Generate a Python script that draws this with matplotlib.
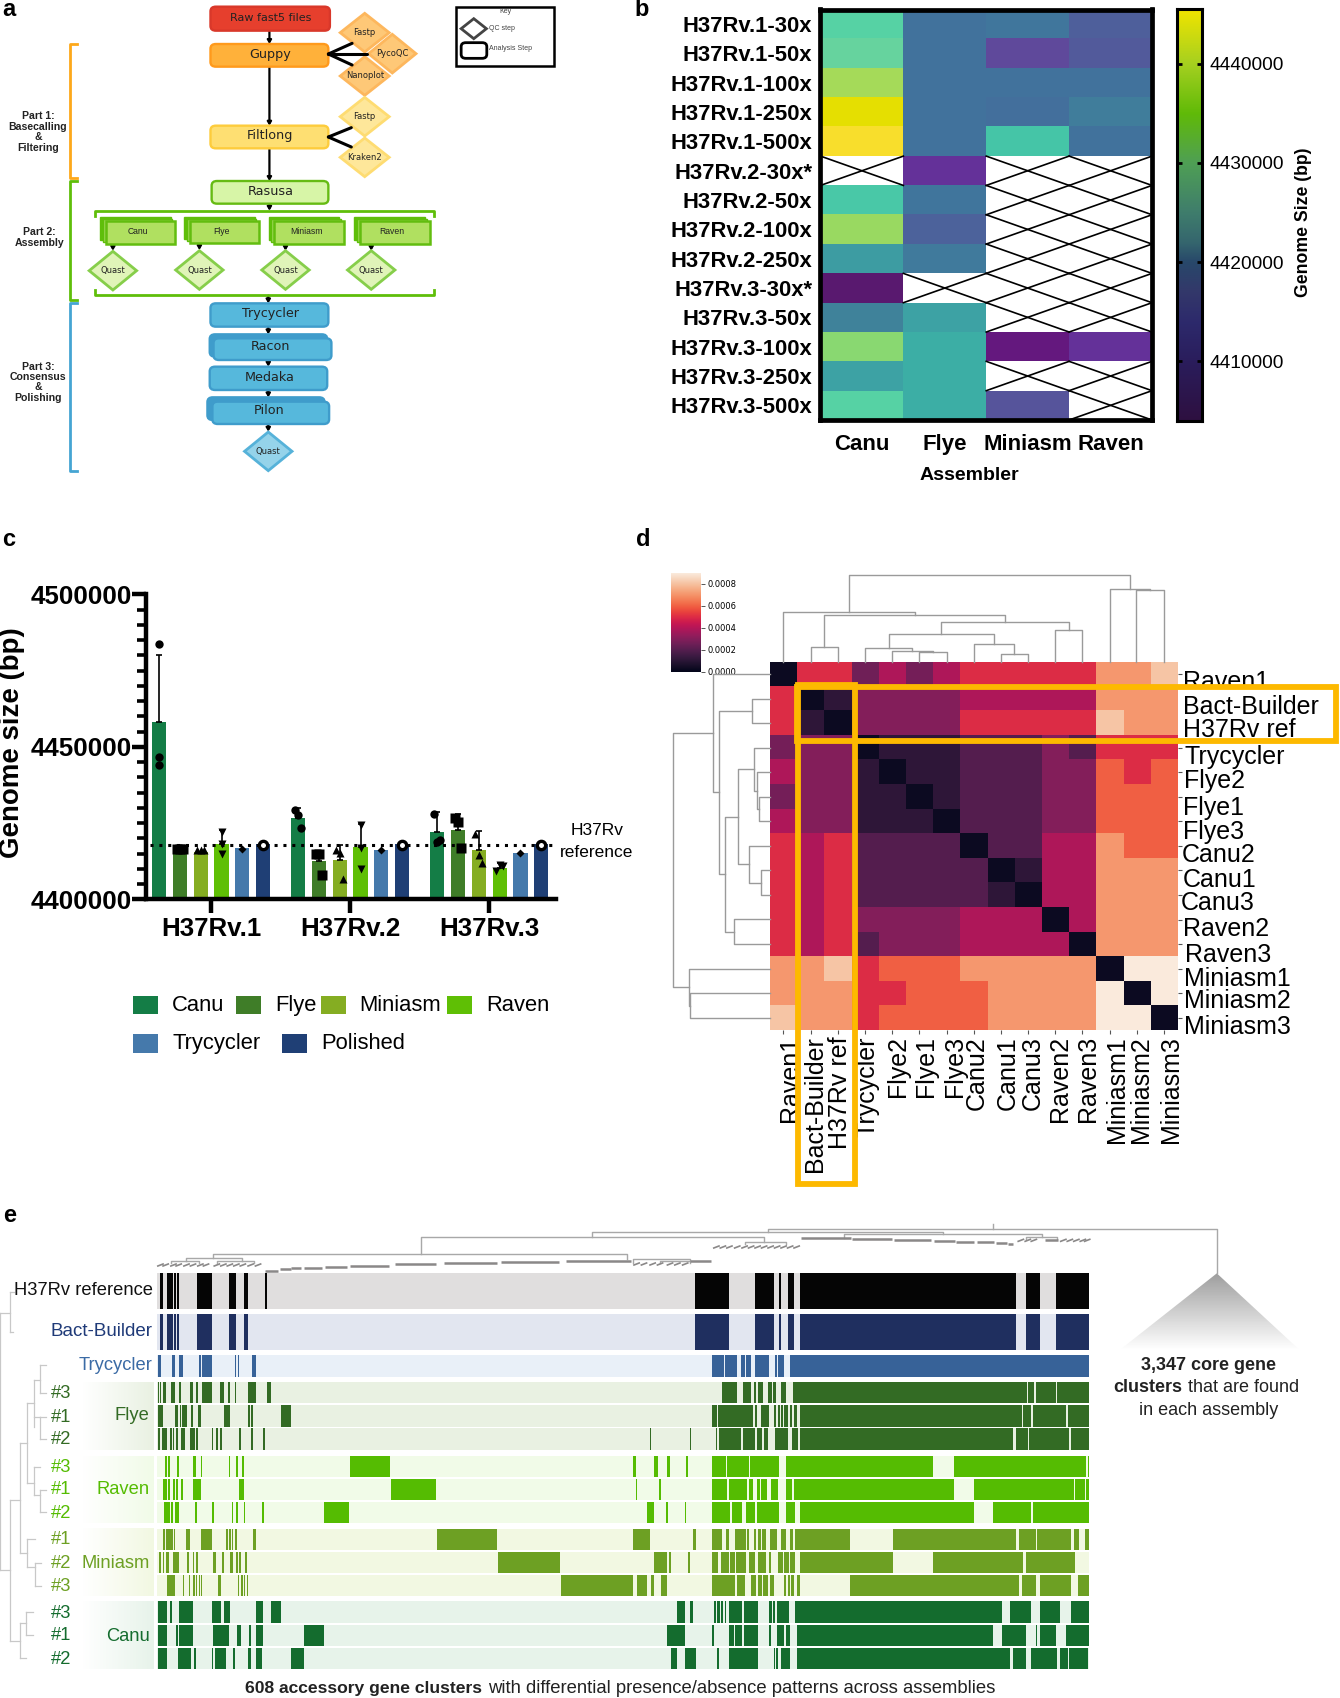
import matplotlib
matplotlib.use("Agg")
import matplotlib.pyplot as plt
import numpy as np
import seaborn as sns
from matplotlib.colors import LinearSegmentedColormap
from matplotlib.patches import FancyBboxPatch, Polygon, Rectangle

W, H = 1340, 1698
SANS = ['Liberation Sans']

# ---- panel b data
coverages = ['H37Rv.1-30x', 'H37Rv.1-50x', 'H37Rv.1-100x', 'H37Rv.1-250x', 'H37Rv.1-500x',
             'H37Rv.2-30x*', 'H37Rv.2-50x', 'H37Rv.2-100x', 'H37Rv.2-250x',
             'H37Rv.3-30x*', 'H37Rv.3-50x', 'H37Rv.3-100x', 'H37Rv.3-250x', 'H37Rv.3-500x']
assemblers = ['Canu', 'Flye', 'Miniasm', 'Raven']
nan = np.nan
genome_canu = [4431000, 4432500, 4438000, 4442000, 4444000, nan, 4429500, 4437000, 4424500,
               4407000, 4422000, 4435500, 4425000, 4431000]
genome_flye = [4420000, 4420000, 4420000, 4420000, 4420000, 4412000, 4420300, 4417500, 4421000,
               nan, 4425000, 4427000, 4427000, 4427000]
genome_miniasm = [4420500, 4415000, 4420000, 4419500, 4429000, nan, nan, nan, nan,
                  nan, nan, 4410000, nan, 4416000]
genome_raven = [4417000, 4416500, 4420000, 4421500, 4420000, nan, nan, nan, nan,
                nan, nan, 4412000, nan, nan]
cbar_ticks_b = [4410000, 4420000, 4430000, 4440000]

# ---- panel c data
isolates = ['H37Rv.1', 'H37Rv.2', 'H37Rv.3']
series_c = ['Canu', 'Flye', 'Miniasm', 'Raven', 'Trycycler', 'Polished']
mean_h37rv1 = [4458080, 4417560, 4415500, 4418150, 4416860, 4418030]
mean_h37rv2 = [4426810, 4412530, 4412880, 4417210, 4416280, 4418030]
mean_h37rv3 = [4422010, 4422720, 4416040, 4410300, 4415340, 4418030]
errtop_h37rv1 = [4480210, 4417560, 4415500, 4422830, 4416860, 4418030]
errtop_h37rv2 = [4429980, 4416000, 4417800, 4424820, 4416280, 4418030]
errtop_h37rv3 = [4428570, 4428100, 4422250, 4411940, 4415340, 4418030]
reps_h37rv1 = [[4483610, 4446720, 4444030], [4416630, 4416630, 4416630], [4416040, 4416040, 4416040],
               [4422130, 4418030, 4414870], [4416510], [4417800]]
reps_h37rv2 = [[4429275, 4427640, 4423420], [4414750, 4414750, 4407960], [4416040, 4415110, 4406560],
               [4424240, 4416860, 4410070], [4416160], [4417800]]
reps_h37rv3 = [[4427870, 4418850, 4419320], [4426580, 4425290, 4416750], [4421550, 4414640, 4412060],
               [4409130, 4411240, 4410770], [4415340], [4417800]]
reference_size = 4417680

# ---- panel d data (distances, dendrogram order)
taxa = ['Raven1', 'Bact-Builder', 'H37Rv ref', 'Trycycler', 'Flye2', 'Flye1', 'Flye3', 'Canu2',
        'Canu1', 'Canu3', 'Raven2', 'Raven3', 'Miniasm1', 'Miniasm2', 'Miniasm3']
a, b_, c_, d_, e_, f_, g_, h_, i_, j_ = 0.00003, 0.00011, 0.00020, 0.00030, 0.00039, 0.00050, 0.00060, 0.00071, 0.00081, 0.00090
dist_matrix = [
    [a, f_, f_, 0.00026, e_, 0.00027, e_, f_, f_, f_, f_, f_, h_, h_, i_],
    [f_, a, b_, d_, d_, d_, d_, e_, e_, e_, e_, e_, h_, h_, h_],
    [f_, b_, a, d_, d_, d_, d_, f_, f_, f_, f_, f_, i_, h_, h_],
    [0.00027, d_, d_, a, b_, b_, b_, c_, c_, c_, d_, c_, f_, f_, f_],
    [e_, d_, d_, b_, a, b_, b_, c_, c_, c_, d_, d_, g_, f_, g_],
    [0.00027, d_, d_, b_, b_, a, b_, c_, c_, c_, d_, d_, g_, g_, g_],
    [e_, d_, d_, b_, b_, b_, a, c_, c_, c_, d_, d_, g_, g_, g_],
    [f_, e_, f_, c_, c_, c_, c_, a, c_, c_, e_, e_, h_, g_, g_],
    [f_, e_, f_, c_, c_, c_, c_, c_, a, b_, e_, e_, h_, h_, h_],
    [f_, e_, f_, c_, c_, c_, c_, c_, b_, a, e_, e_, h_, h_, h_],
    [f_, e_, f_, d_, d_, d_, d_, e_, e_, e_, a, e_, h_, h_, h_],
    [f_, e_, f_, c_, d_, d_, d_, e_, e_, e_, e_, a, h_, h_, h_],
    [h_, h_, i_, f_, g_, g_, g_, h_, h_, h_, h_, h_, a, j_, j_],
    [h_, h_, h_, f_, f_, g_, g_, g_, h_, h_, h_, h_, j_, a, j_],
    [i_, h_, h_, f_, g_, g_, g_, g_, h_, h_, h_, h_, j_, j_, a],
]
cbar_ticks_d = [0.0, 0.0002, 0.0004, 0.0006, 0.0008]


# ---- panel e data: presence intervals along the gene cluster axis
def rhs(spans):
    # the right half of the matrix was read with its own origin
    return [(s + 1522, t + 1522) for s, t in spans]


ref_core = [(81, 159), (219, 262), (275, 280), (296, 309), (322, 820), (845, 876), (912, 990)]
ref_acc = [(370, 376), (385, 399), (402, 405), (409, 413), (455, 489), (529, 545), (562, 573)]
clusters_ref = ref_acc + [(611, 615)] + rhs(ref_core)
clusters_bact = ref_acc + rhs(ref_core)
clusters_tryc = [(364, 371), (396, 403), (413, 421), (459, 463), (466, 489), (541, 545), (548, 552), (582, 590)] + rhs(
    [(120, 148), (151, 177), (187, 195), (198, 210), (219, 251), (265, 270), (273, 286), (300, 990)])
clusters_flye3 = [(364, 367), (369, 372), (375, 382), (395, 404), (413, 417), (437, 446), (451, 456), (466, 489),
                  (508, 517), (525, 530), (541, 545), (572, 590), (615, 625)] + rhs(
    [(142, 177), (191, 210), (216, 222), (227, 238), (248, 258), (261, 268), (279, 290), (307, 846), (849, 862),
     (866, 912), (915, 990)])
clusters_flye1 = [(364, 376), (403, 411), (414, 418), (420, 432), (441, 445), (456, 463), (516, 530), (573, 577),
                  (579, 583), (647, 671)] + rhs(
    [(120, 131), (134, 215), (218, 224), (233, 251), (262, 268), (271, 276), (279, 284), (287, 296), (299, 304),
     (309, 315), (322, 835), (838, 855), (861, 937), (941, 990)])
clusters_flye2 = [(364, 370), (373, 384), (391, 396), (398, 402), (405, 411), (417, 427), (437, 449), (452, 456),
                  (488, 492), (498, 502), (507, 513), (551, 555), (579, 583), (607, 611), (1498, 1501)] + rhs(
    [(68, 71), (128, 131), (135, 187), (191, 219), (223, 236), (240, 248), (265, 296), (304, 318), (322, 814),
     (820, 849), (852, 944), (947, 990)])
clusters_raven3 = [(381, 385), (388, 392), (409, 413), (445, 452), (463, 466), (527, 530), (544, 548), (558, 562),
                   (806, 899), (1459, 1466), (1508, 1518), (1540, 1544)] + rhs(
    [(17, 21), (60, 64), (120, 152), (155, 205), (208, 275), (290, 630), (679, 982), (986, 990)])
clusters_raven1 = [(375, 385), (387, 392), (399, 403), (406, 410), (417, 421), (445, 463), (551, 562), (901, 1006),
                   (1466, 1470), (1519, 1525)] + rhs(
    [(-3, 3), (120, 155), (159, 201), (205, 214), (223, 230), (233, 247), (255, 271), (290, 304), (308, 678),
     (725, 954), (958, 979), (982, 990)])
clusters_raven2 = [(378, 392), (395, 399), (403, 413), (449, 455), (489, 494), (534, 537), (544, 548), (562, 566),
                   (604, 608), (746, 805), (1491, 1507), (1536, 1540)] + rhs(
    [(14, 18), (57, 60), (120, 162), (166, 190), (198, 219), (223, 275), (291, 311), (322, 724), (768, 856),
     (859, 990)])
clusters_mini1 = [(375, 380), (382, 398), (401, 404), (428, 437), (463, 488), (522, 526), (529, 532), (534, 538),
                  (541, 547), (583, 590), (1007, 1147), (1459, 1498)] + rhs(
    [(75, 82), (120, 142), (152, 159), (173, 198), (200, 205), (216, 222), (227, 232), (236, 244), (254, 269),
     (279, 290), (300, 307), (311, 438), (537, 820), (828, 866), (869, 947), (954, 966), (979, 990)])
clusters_mini2 = [(367, 372), (375, 379), (383, 389), (399, 413), (431, 435), (445, 448), (451, 456), (491, 498),
                  (513, 517), (530, 537), (544, 548), (552, 556), (566, 570), (1148, 1292), (1508, 1536),
                  (1544, 1547)] + rhs(
    [(0, 16), (21, 25), (64, 68), (120, 134), (141, 159), (162, 173), (176, 198), (205, 219), (227, 244), (251, 255),
     (272, 283), (286, 297), (300, 311), (322, 537), (630, 837), (845, 958)])
clusters_mini3 = [(385, 398), (400, 404), (421, 424), (435, 438), (445, 449), (451, 455), (458, 462), (463, 466),
                  (502, 509), (548, 552), (555, 560), (562, 566), (569, 572), (1293, 1459), (1470, 1491),
                  (1501, 1508), (1526, 1536)] + rhs(
    [(3, 16), (120, 173), (177, 195), (209, 222), (225, 235), (238, 248), (254, 262), (287, 291), (294, 300),
     (303, 309), (315, 322), (438, 828), (834, 866), (877, 947), (965, 990)])
clusters_canu3 = [(364, 385), (392, 396), (413, 445), (488, 509), (516, 530), (590, 607), (625, 647),
                  (1562, 1568)] + rhs(
    [(39, 57), (68, 75), (124, 128), (131, 138), (141, 145), (149, 152), (159, 190), (194, 226), (251, 258),
     (261, 265), (269, 297), (311, 789), (806, 856), (877, 923), (947, 990)])
clusters_canu1 = [(364, 385), (406, 410), (413, 445), (491, 527), (547, 555), (575, 579), (590, 607), (700, 746),
                  (1537, 1568)] + rhs(
    [(15, 57), (120, 124), (159, 170), (173, 190), (194, 226), (251, 255), (269, 286), (290, 300), (315, 768),
     (789, 845), (866, 870), (877, 912), (937, 990)])
clusters_canu2 = [(364, 385), (410, 441), (447, 452), (488, 492), (495, 522), (537, 541), (572, 579), (590, 604),
                  (672, 700), (1547, 1561)] + rhs(
    [(25, 39), (57, 82), (131, 135), (159, 226), (262, 265), (268, 272), (279, 300), (315, 806), (813, 845),
     (855, 916), (922, 940), (943, 987)])

fig = plt.figure(figsize=(W / 100, H / 100), dpi=100, facecolor='white')


def px_axes(x0, y0, x1, y1, **kw):
    return fig.add_axes([x0 / W, 1 - y1 / H, (x1 - x0) / W, (y1 - y0) / H], **kw)


def overlay(x0, y0, w, h, sx, sy):
    # drawing canvas in magnified reference units, y pointing down
    ax = px_axes(x0, y0, x0 + w, y0 + h)
    ax.set_xlim(0, w * sx)
    ax.set_ylim(h * sy, 0)
    ax.axis('off')
    ax.patch.set_alpha(0)
    ax.set_autoscale_on(False)
    return ax


# ======== panel a
axa = overlay(0, 0, 600, 490, 2.613, 3.0)


def box(x0, y0, x1, y1, fc, ec, label=None, size=9.2, family='DejaVu Sans', lw=1.7):
    axa.add_patch(FancyBboxPatch((x0 + 9, y0 + 9), x1 - x0 - 18, y1 - y0 - 18, boxstyle='round,pad=9,rounding_size=14',
                                 fc=fc, ec=ec, lw=lw, zorder=2))
    if label:
        axa.text((x0 + x1) / 2 + 2, (y0 + y1) / 2 - 3, label, ha='center', va='center', fontsize=size,
                 family=family, color='#222222', zorder=4)


def diamond(cx, cy, hw, hh, fc, ec, label, size=6):
    axa.add_patch(Polygon([(cx - hw, cy), (cx, cy - hh), (cx + hw, cy), (cx, cy + hh)], closed=True, fc=fc, ec=ec,
                          lw=2, zorder=2))
    axa.text(cx, cy, label, ha='center', va='center', fontsize=size, family='DejaVu Sans', color='#222222', zorder=4)


box(550, 20, 862, 92, '#e63f2d', '#d9382a', 'Raw fast5 files', 8)
box(550, 132, 858, 200, '#ffb13a', '#ff9a1c', 'Guppy')
box(550, 377, 858, 445, '#fedf72', '#fdcc3c', 'Filtlong')
box(553, 543, 858, 611, '#d7f5a7', '#66bb13', 'Rasusa')
blue, blue_ec = '#56b8dc', '#3f9ccb'
box(550, 910, 858, 980, blue, blue_ec, 'Trycycler')
box(548, 1003, 855, 1070, '#3f9ccb', blue_ec)
box(558, 1015, 866, 1080, blue, blue_ec)
axa.text(708, 1041, 'Racon', ha='center', va='center', fontsize=9.2, family='DejaVu Sans', color='#222222', zorder=4)
box(548, 1100, 855, 1170, blue, blue_ec, 'Medaka')
box(542, 1192, 848, 1260, '#3f9ccb', blue_ec)
box(555, 1205, 860, 1272, blue, blue_ec)
axa.text(704, 1232, 'Pilon', ha='center', va='center', fontsize=9.2, family='DejaVu Sans', color='#222222', zorder=4)

for name, fx, back in [('Canu', 276, 260), ('Flye', 496, 481), ('Miniasm', 717, 702), ('Raven', 941, 926)]:
    top = 664 if name != 'Flye' else 662
    axa.add_patch(Rectangle((back, top - 12), fx + 170 - back, 68, fc='#5fbe0a', ec='#5fbe0a', zorder=2))
    axa.add_patch(Rectangle((fx - 8, top - 6), 182, 68, fc='#9bd653', ec='#5fbe0a', lw=1, zorder=2))
    axa.add_patch(Rectangle((fx, top), 182, 68, fc='#b0e060', ec='#62bd0f', lw=1.8, zorder=3))
    axa.text(fx + 84, top + 32, name, ha='center', va='center', fontsize=6.2, family=SANS, color='#222222', zorder=4)

diamond(953, 98, 64, 58, '#fec877', '#fdb75d', 'Fastp')
diamond(1025, 161, 62, 58, '#fec877', '#fdb75d', 'PycoQC')
diamond(953, 228, 64, 58, '#fec877', '#fdb75d', 'Nanoplot')
diamond(953, 350, 64, 58, '#fee79a', '#fedc72', 'Fastp')
diamond(953, 472, 64, 58, '#fee79a', '#fedc72', 'Kraken2')
for qx, qy in [(295, 812), (521, 810), (746, 810), (970, 810)]:
    diamond(qx, qy, 62, 58, '#e0f4b8', '#86ce4a', 'Quast')
diamond(701, 1354, 62, 58, '#95d3ea', '#56b2d9', 'Quast')

for x, y0, y1 in [(704, 92, 132), (704, 200, 377), (704, 445, 543), (704, 611, 632), (701, 887, 910), (701, 980, 1003),
                  (701, 1080, 1100), (701, 1170, 1192), (701, 1272, 1295), (295, 732, 752), (521, 730, 750),
                  (746, 732, 752), (970, 732, 752)]:
    axa.annotate('', xy=(x, y1), xytext=(x, y0), zorder=1,
                 arrowprops=dict(arrowstyle='-|>,head_width=0.12,head_length=0.2', lw=1.6, color='black',
                                 shrinkA=0, shrinkB=0))
for p, q in [((858, 162), (920, 130)), ((858, 162), (960, 162)), ((858, 162), (920, 195)),
             ((858, 411), (918, 383)), ((858, 411), (918, 441))]:
    axa.plot([p[0], q[0]], [p[1], q[1]], color='black', lw=2.2, zorder=5, solid_capstyle='round')

for y0, y1, col in [(132, 533, '#fda81a'), (543, 900, '#5fbe0a'), (908, 1412, '#45a5d3')]:
    axa.plot([200, 183, 183, 200], [y0, y0, y1, y1], color=col, lw=2)
axa.plot([248, 248, 1135, 1135], [648, 633, 633, 648], color='#5fbe0a', lw=2)
axa.plot([248, 248, 1135, 1135], [870, 886, 886, 870], color='#5fbe0a', lw=2)

part_labels = [('Part 1:', 100, 348), ('Basecalling', 97, 380), ('&', 100, 411), ('Filtering', 100, 443),
               ('Part 2:', 104, 697), ('Assembly', 104, 728),
               ('Part 3:', 99, 1100), ('Consensus', 99, 1131), ('&', 99, 1162), ('Polishing', 99, 1194)]
for s, x, y in part_labels:
    axa.text(x, y, s, ha='center', va='center', fontsize=7.6, fontweight='bold', family=SANS, color='#222222')

axa.add_patch(Rectangle((1191, 20), 256, 177, fc='white', ec='black', lw=1.8))
axa.text(1320, 34, 'Key', ha='center', va='center', fontsize=5, family=SANS, color='#444444')
axa.add_patch(Polygon([(1205, 86), (1238, 56), (1271, 86), (1238, 116)], closed=True, fc='white', ec='#444444', lw=2))
axa.text(1278, 85, 'QC step', va='center', fontsize=5, family=SANS, color='#444444')
axa.add_patch(FancyBboxPatch((1215, 138), 47, 27, boxstyle='round,pad=10,rounding_size=12', fc='white', ec='black', lw=2))
axa.text(1278, 146, 'Analysis Step', va='center', fontsize=5, family=SANS, color='#444444')

# ======== panel b
cell_cmap = LinearSegmentedColormap.from_list('cells', [
    (0.0, '#3a1050'), (3000 / 41500, '#5a1a70'), (6000 / 41500, '#64187e'), (8000 / 41500, '#65329a'),
    (11000 / 41500, '#5f4a9c'), (13000 / 41500, '#4f5f9b'), (16000 / 41500, '#41739d'), (19000 / 41500, '#3f8a9a'),
    (21000 / 41500, '#3da3a5'), (23000 / 41500, '#3cafa6'), (25000 / 41500, '#45c5a8'), (27000 / 41500, '#56d2a5'),
    (29000 / 41500, '#6cd49c'), (32000 / 41500, '#8ed96a'), (34000 / 41500, '#a5da5a'), (38000 / 41500, '#e5e000'),
    (40000 / 41500, '#f8de2c'), (1.0, '#f8de2c')])
bar_cmap = LinearSegmentedColormap.from_list('bar', [
    (0.0, '#2e1040'), (6000 / 41500, '#2a1d5c'), (10000 / 41500, '#2d2a6c'), (13000 / 41500, '#33386a'),
    (16000 / 41500, '#28486a'), (18000 / 41500, '#35666e'), (21000 / 41500, '#3f7d6c'), (26000 / 41500, '#4f9f55'),
    (31000 / 41500, '#60ba08'), (36000 / 41500, '#a5d020'), (1.0, '#f0e400')])
vmin_b, vmax_b = 4404000, 4445500

axb = px_axes(820.5, 9.5, 1152, 420)
grid_b = np.array([genome_canu, genome_flye, genome_miniasm, genome_raven]).T
axb.imshow(np.ma.masked_invalid(grid_b), cmap=cell_cmap, vmin=vmin_b, vmax=vmax_b, aspect='auto',
           interpolation='nearest')
for r, c in zip(*np.where(np.isnan(grid_b))):
    axb.plot([c - 0.5, c + 0.5], [r - 0.5, r + 0.5], color='black', lw=1.2)
    axb.plot([c - 0.5, c + 0.5], [r + 0.5, r - 0.5], color='black', lw=1.2)
axb.set_xlim(-0.5, 3.5)
axb.set_ylim(13.5, -0.5)
axb.set_yticks(range(len(coverages)), coverages, family=SANS, fontweight='bold', fontsize=15.8)
axb.set_xticks(range(len(assemblers)), assemblers, family=SANS, fontweight='bold', fontsize=16)
axb.tick_params(length=0, pad=6)
axb.tick_params(axis='x', pad=10)
for sp in axb.spines.values():
    sp.set_linewidth(3.4)
axb.set_xlabel('Assembler', family=SANS, fontweight='bold', fontsize=14, labelpad=9, x=0.45)

axcb = px_axes(1177, 9.3, 1202, 420.7)
axcb.imshow(np.linspace(vmax_b, vmin_b, 256)[:, None], cmap=bar_cmap, vmin=vmin_b, vmax=vmax_b, aspect='auto',
            extent=(0, 1, vmin_b, vmax_b))
axcb.set_xticks([])
axcb.yaxis.tick_right()
axcb.set_yticks(cbar_ticks_b, [str(t) for t in cbar_ticks_b], family=SANS, fontsize=13.8)
axcb.tick_params(axis='y', direction='in', left=True, right=True, length=3.5, width=2, pad=5.5)
for sp in axcb.spines.values():
    sp.set_linewidth(2.2)
fig.text(1303 / W, 1 - 222.5 / H, 'Genome Size (bp)', rotation=90, ha='center', va='center', family=SANS,
         fontweight='bold', fontsize=12.7)

# ======== panel c
axc = px_axes(146, 594.3, 556, 899.3)
colors_c = ['#147d46', '#3f7d28', '#85ad22', '#5fbf05', '#4579ab', '#1f3f75']
markers_c = ['o', 's', '^', 'v', 'D', 'o']
sizes_c = [6, 6.5, 6, 6, 4, 6]
group_step = 6.676
jitter = {3: [-0.16, 0.0, 0.16]}
for g, (means, tops, reps) in enumerate(zip([mean_h37rv1, mean_h37rv2, mean_h37rv3],
                                            [errtop_h37rv1, errtop_h37rv2, errtop_h37rv3],
                                            [reps_h37rv1, reps_h37rv2, reps_h37rv3])):
    for i in range(6):
        x = g * group_step + i
        axc.bar(x, means[i], width=0.68, color=colors_c[i], zorder=2)
        if tops[i] > means[i]:
            axc.errorbar(x, means[i], yerr=[[0], [tops[i] - means[i]]], color='black', lw=1.2, capsize=2.5,
                         capthick=1.2, zorder=3)
        n = len(reps[i])
        if i == 0 and g == 0 or i == 3 and g < 2:
            offs = [0] * n
        else:
            offs = jitter.get(n, [0])
        for off, v in zip(offs, reps[i]):
            if i == 5:
                axc.plot(x, v, marker='o', ms=sizes_c[i], mfc='white', mec='black', mew=2.4, zorder=5)
            else:
                axc.plot(x + off, v, marker=markers_c[i], ms=sizes_c[i], color='black', mec='none', zorder=5)
axc.plot([-0.43, 18.86], [reference_size, reference_size], color='black', lw=2.2, ls=(0, (1, 1.9)), zorder=4)
axc.set_xlim(-0.627, 19.06)
axc.set_ylim(4400000, 4500000)
axc.spines[['top', 'right']].set_visible(False)
axc.spines[['left', 'bottom']].set_linewidth(3.2)
axc.set_yticks([4400000, 4450000, 4500000], ['4400000', '4450000', '4500000'], family=SANS, fontweight='bold',
               fontsize=18.7)
axc.set_yticks(np.arange(4400000, 4500001, 5000), minor=True)
axc.tick_params(axis='y', which='major', length=10, width=3.2, pad=0)
axc.tick_params(axis='y', which='minor', length=6.5, width=2.6)
axc.set_xticks([2.5 + g * group_step for g in range(3)], isolates, family=SANS, fontweight='bold', fontsize=18.6)
axc.tick_params(axis='x', length=10, width=3.2, pad=3)
fig.text(12 / W, 1 - 743 / H, 'Genome size (bp)', rotation=90, ha='center', va='center', family=SANS,
         fontweight='bold', fontsize=19.9)

ovc = overlay(0, 520, 640, 560, 2.45, 2.8)
ovc.text(1462, 870, 'H37Rv', ha='center', va='center', family=SANS, fontsize=12.5)
ovc.text(1462, 931, 'reference', ha='center', va='center', family=SANS, fontsize=12.5)
legend_c = [(326, 1332, 422), (579, 1332, 675), (786, 1332, 880), (1096, 1332, 1192), (326, 1440, 422), (690, 1440, 787)]
for (px, py, tx), col, name in zip(legend_c, colors_c, series_c):
    ovc.add_patch(Rectangle((px, py), 61, 51, fc=col, ec='none'))
    ovc.text(tx, py + 27, name, va='center', family=SANS, fontsize=15.8)

# ======== panel d
rocket = sns.color_palette('rocket', as_cmap=True)
axd = px_axes(769.9, 661.8, 1177.5, 1030)
axd.imshow(np.array(dist_matrix), cmap=rocket, vmin=0, vmax=0.0009, aspect='auto', interpolation='nearest')
axd.set_xticks(range(15))
axd.set_yticks(range(15))
axd.set_xticklabels([])
axd.set_yticklabels([])
axd.tick_params(length=3, width=0.8, color='#555555')
axd.yaxis.tick_right()
for sp in axd.spines.values():
    sp.set_visible(False)

ovd = overlay(640, 520, 700, 680, 2.24, 2.306)
ovd.set_zorder(5)
tree_gray = '#9a9a9a'
top_links = [(382, 443, 327, 327, 292), (626, 687, 327, 327, 305), (565, 656, 327, 305, 303), (504, 610, 327, 303, 296),
             (808, 869, 327, 327, 310), (748, 838, 327, 310, 285), (557, 793, 296, 285, 262), (930, 991, 327, 327, 253),
             (675, 960, 262, 253, 235), (412, 817, 292, 235, 220), (321, 615, 327, 220, 211), (1112, 1173, 327, 327, 162),
             (1052, 1142, 327, 162, 160), (468, 1097, 211, 160, 126)]
for x0, x1, d0, d1, hgt in top_links:
    ovd.plot([x0, x0, x1, x1], [d0, hgt, hgt, d1], color=tree_gray, lw=1)
side_links = [(412, 468, 291, 291, 250), (638, 695, 291, 291, 266), (582, 666, 291, 266, 262), (525, 624, 291, 262, 255),
              (808, 865, 291, 291, 270), (751, 836, 291, 270, 244), (575, 794, 255, 244, 219), (921, 978, 291, 291, 210),
              (685, 950, 219, 210, 190), (440, 817, 250, 190, 176), (355, 628, 291, 176, 163), (1091, 1148, 291, 291, 112),
              (1035, 1120, 291, 112, 110), (492, 1078, 163, 110, 73)]
for y0, y1, d0, d1, hgt in side_links:
    ovd.plot([d0, hgt, hgt, d1], [y0, y0, y1, y1], color=tree_gray, lw=1)

label_y = [374, 432, 484, 546, 603, 663, 720, 772, 830, 884, 943, 1002, 1058, 1110, 1169]
label_x = [1216, 1216, 1216, 1219, 1218, 1216, 1216, 1214, 1216, 1212, 1216, 1220, 1218, 1218, 1218]
under_x = [335, 392, 447, 510, 577, 640, 705, 755, 823, 880, 940, 1003, 1068, 1122, 1190]
ovd.text(label_x[0], label_y[0], taxa[0], va='center', family=SANS, fontsize=18)
ovd.add_patch(Rectangle((1204, 385), 360, 125, fc='white', ec='none'))
for t, lx, ly, ux in zip(taxa, label_x, label_y, under_x):
    if t != 'Raven1':
        ovd.text(lx, ly, t, va='center', family=SANS, fontsize=18)
    ovd.text(ux, 1190, t, rotation=90, ha='center', va='top', family=SANS, fontsize=18)
box_col = '#fdb900'
ovd.add_patch(Rectangle((351, 385), 1208, 125, fc='none', ec=box_col, lw=4.2, zorder=6))
ovd.add_patch(Rectangle((355, 381), 126, 1151, fc='none', ec=box_col, lw=4.2, zorder=6))

axdc = px_axes(671, 573, 701, 671.8)
axdc.imshow(np.linspace(0.0009, 0, 256)[:, None], cmap=rocket, vmin=0, vmax=0.0009, aspect='auto',
            extent=(0, 1, 0, 0.0009))
axdc.set_xticks([])
axdc.yaxis.tick_right()
axdc.set_yticks(cbar_ticks_d, [f'{t:.4f}' for t in cbar_ticks_d], fontsize=6)
axdc.tick_params(axis='y', length=3, width=0.7, pad=2, color='#555555')
for sp in axdc.spines.values():
    sp.set_visible(False)

# ======== panel e
E_XMAX, E_YMAX = 1340 * 2.306, 498 * 3.0
ove = overlay(0, 1200, 1340, 498, 2.306, 3.0)
rows_e = [
    (clusters_ref, 220, 328, '#050505', '#e0dede'),
    (clusters_bact, 343, 451, '#1f2f5f', '#e2e6f0'),
    (clusters_tryc, 466, 530, '#376298', '#e9f0f8'),
    (clusters_flye3, 547, 610, '#336b24', '#e9f1e2'),
    (clusters_flye1, 616, 680, '#336b24', '#e9f1e2'),
    (clusters_flye2, 685, 749, '#336b24', '#e9f1e2'),
    (clusters_raven3, 767, 830, '#55bc02', '#f1fbe8'),
    (clusters_raven1, 836, 899, '#55bc02', '#f1fbe8'),
    (clusters_raven2, 905, 968, '#55bc02', '#f1fbe8'),
    (clusters_mini1, 986, 1049, '#6da023', '#f2f8e2'),
    (clusters_mini2, 1055, 1118, '#6da023', '#f2f8e2'),
    (clusters_mini3, 1124, 1188, '#6da023', '#f2f8e2'),
    (clusters_canu3, 1204, 1268, '#146c2e', '#e7f3ea'),
    (clusters_canu1, 1274, 1337, '#146c2e', '#e7f3ea'),
    (clusters_canu2, 1343, 1407, '#146c2e', '#e7f3ea'),
]
for spans, y0, y1, col, bg in rows_e:
    ove.add_patch(Rectangle((363, y0), 2512 - 363, y1 - y0, fc=bg, ec='none'))
    ove.broken_barh([(s, t - s) for s, t in spans], (y0, y1 - y0), facecolors=col, edgecolor='none')
for y0, y1, bg in [(547, 749, '#e9f1e2'), (767, 968, '#f1fbe8'), (986, 1188, '#f2f8e2'), (1204, 1407, '#e7f3ea')]:
    fade = LinearSegmentedColormap.from_list('fade', ['white', bg])
    ove.imshow(np.linspace(0, 1, 64)[None, :], cmap=fade, aspect='auto', extent=(190, 355, y1, y0), zorder=0)
ove.set_xlim(0, E_XMAX)
ove.set_ylim(E_YMAX, 0)

ove.text(352, 272, 'H37Rv reference', ha='right', va='center', family=SANS, fontsize=13.2, color='#111111')
ove.text(352, 395, 'Bact-Builder', ha='right', va='center', family=SANS, fontsize=13.5, color='#1f3a78')
ove.text(352, 497, 'Trycycler', ha='right', va='center', family=SANS, fontsize=13.2, color='#3b6ba5')
group_names = [('Flye', 645, '#336b24', [579, 649, 718], ['#3', '#1', '#2']),
               ('Raven', 868, '#55bc02', [799, 868, 937], ['#3', '#1', '#2']),
               ('Miniasm', 1088, '#6da023', [1018, 1088, 1157], ['#1', '#2', '#3']),
               ('Canu', 1307, '#146c2e', [1237, 1306, 1376], ['#3', '#1', '#2'])]
for name, y, col, ys, tags in group_names:
    ove.text(345, y + 2, name, ha='right', va='center', family=SANS, fontsize=13.2, color=col)
    for ty, tag in zip(ys, tags):
        ove.text(117, ty + 2, tag, va='center', family=SANS, fontsize=13.2, color=col)

# row tree on the left
row_tree = [([22, 32], [275, 275]), ([22, 22], [275, 397]), ([22, 30], [397, 397]), ([0, 22], [338, 338]),
            ([0, 0], [338, 1110]), ([0, 22], [1110, 1110]), ([22, 22], [900, 1322]), ([22, 45], [900, 900]),
            ([45, 45], [730, 1060]), ([45, 62], [730, 730]), ([62, 62], [610, 850]), ([62, 78], [610, 610]),
            ([78, 78], [540, 680]), ([78, 92], [540, 540]), ([92, 92], [495, 578]), ([92, 105], [495, 495]),
            ([92, 105], [578, 578]), ([78, 92], [650, 650]), ([92, 92], [650, 718]), ([92, 105], [650, 650]),
            ([92, 105], [718, 718]), ([62, 78], [850, 850]), ([78, 78], [800, 885]), ([78, 92], [800, 800]),
            ([78, 92], [885, 885]), ([92, 92], [870, 937]), ([92, 105], [870, 870]), ([92, 105], [937, 937]),
            ([45, 62], [1060, 1060]), ([62, 62], [1018, 1100]), ([62, 80], [1018, 1018]), ([62, 80], [1100, 1100]),
            ([80, 80], [1088, 1157]), ([80, 95], [1088, 1088]), ([80, 95], [1157, 1157]), ([22, 45], [1322, 1322]),
            ([45, 45], [1270, 1375]), ([45, 60], [1270, 1270]), ([60, 60], [1237, 1305]), ([60, 75], [1237, 1237]),
            ([60, 75], [1305, 1305]), ([45, 60], [1375, 1375])]
for xs, ys in row_tree:
    ove.plot(xs, ys, color='#c8c8c8', lw=0.9, clip_on=False)

# cluster tree on top
top_tree = [([491, 491, 1447, 1447], [175, 163, 163, 178]), ([970, 970, 1762, 1762], [163, 110, 110, 125]),
            ([1366, 1366, 2174, 2174], [110, 95, 95, 103]), ([1770, 1770, 2806, 2806], [95, 86, 86, 220]),
            ([2289, 2289], [72, 86]), ([1947, 1947, 2402, 2402], [113, 103, 103, 112]),
            ([2367, 2367, 2437, 2437], [118, 112, 112, 118]), ([430, 430, 558, 558], [183, 175, 175, 183]),
            ([395, 395, 460, 460], [190, 183, 183, 190]), ([500, 500, 585, 585], [190, 183, 183, 190]),
            ([1717, 1717, 1812, 1812], [133, 125, 125, 133]), ([1460, 1460, 1590, 1590], [188, 178, 178, 183]),
            ([1522, 1522, 1590, 1590], [188, 183, 183, 188])]
for xs, ys in top_tree:
    ove.plot(xs, ys, color='#a8a8a8', lw=1)
stair = [(610, 640, 212), (645, 670, 208), (672, 695, 205), (700, 742, 203), (750, 800, 200), (808, 898, 197),
         (910, 1005, 193), (1025, 1145, 189), (1155, 1290, 186), (1305, 1455, 183), (1847, 1962, 113), (1964, 2057, 116),
         (2062, 2147, 119), (2154, 2202, 122), (2205, 2247, 125), (2252, 2292, 127), (2297, 2322, 129), (2325, 2337, 133),
         (1590, 1640, 184), (2410, 2440, 119)]
for x0, x1, y in stair:
    ove.plot([x0, x1], [y, y], color='#8a8888', lw=1.8, solid_capstyle='butt')
blobs = [(x, 195) for x in (370, 382, 400, 412, 430, 445, 462, 475, 500, 515, 530, 545, 560, 578, 595)]
blobs += [(x, 192) for x in (1468, 1485, 1505, 1522, 1545, 1562, 1580)]
blobs += [(1522 + x, 141) for x in (130, 145, 160, 178, 195, 210, 225, 240, 255, 270, 285, 300, 315)]
blobs += [(1522 + x, 121) for x in (832, 848, 862, 930, 945, 960, 975, 985)]
for x, y in blobs:
    ove.plot([x - 6, x + 6], [y + 3, y - 3], color='#8a8888', lw=1.2)

apex = Polygon([(2806, 220), (2582, 450), (2997, 450)], closed=True, fc='none', ec='none')
ove.add_patch(apex)
tri = ove.imshow(np.linspace(0.62, 1, 64)[:, None], cmap='gray', vmin=0, vmax=1, aspect='auto',
                 extent=(2582, 2997, 450, 220))
tri.set_clip_path(apex)
ove.set_xlim(0, E_XMAX)
ove.set_ylim(E_YMAX, 0)

ove.text(2787, 495, '3,347 core gene', ha='center', va='center', family=SANS, fontweight='bold', fontsize=13,
         color='#222222')
ove.text(2727, 563, 'clusters', ha='right', va='center', family=SANS, fontweight='bold', fontsize=13, color='#222222')
ove.text(2739, 563, 'that are found', ha='left', va='center', family=SANS, fontsize=13, color='#222222')
ove.text(2787, 632, 'in each assembly', ha='center', va='center', family=SANS, fontsize=13, color='#222222')
ove.text(1112, 1465, '608 accessory gene clusters', ha='right', va='center', family=SANS, fontweight='bold',
         fontsize=12.6, color='#222222')
ove.text(1125, 1465, 'with differential presence/absence patterns across assemblies', ha='left', va='center',
         family=SANS, fontsize=13.3, color='#222222')

# ======== panel letters
for letter, x, y in [('a', 2, 9), ('b', 634, 9), ('c', 2, 540), ('d', 636, 539), ('e', 3, 1215)]:
    fig.text(x / W, 1 - y / H, letter, ha='left', va='center', fontsize=17, fontweight='bold', family=SANS)

fig.savefig('out.png', dpi=100)
